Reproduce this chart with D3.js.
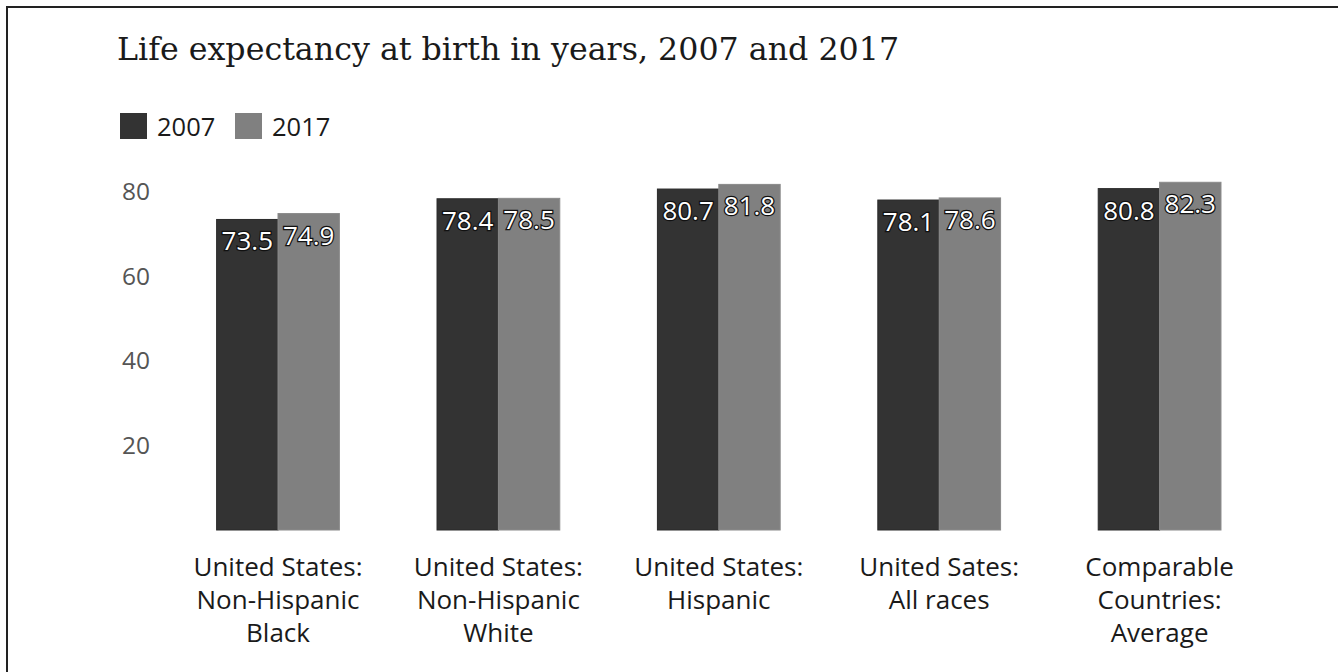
<!DOCTYPE html>
<html>
<head>
<meta charset="utf-8">
<script src="https://d3js.org/d3.v7.min.js"></script>
<style>
  body { margin:0; background:#fff; }
  svg { display:block; }
</style>
</head>
<body>
<script>
// data
var categories = [
  ["United States:", "Non-Hispanic", "Black"],
  ["United States:", "Non-Hispanic", "White"],
  ["United States:", "Hispanic"],
  ["United Sates:", "All races"],
  ["Comparable", "Countries:", "Average"]
];
var years = ["2007", "2017"];
var values2007 = [73.5, 78.4, 80.7, 78.1, 80.8];
var values2017 = [74.9, 78.5, 81.8, 78.6, 82.3];
var yTicks = [20, 40, 60, 80];

var width = 1338, height = 672;
var colors = {"2007": "#333333", "2017": "#808080"};
var sans = "'Open Sans', sans-serif";

var svg = d3.select("body").append("svg")
    .attr("width", width)
    .attr("height", height);

// frame lines (top and left only)
svg.append("line").attr("x1", 6).attr("x2", width).attr("y1", 7).attr("y2", 7)
    .attr("stroke", "#222").attr("stroke-width", 2);
svg.append("line").attr("x1", 7).attr("x2", 7).attr("y1", 6).attr("y2", height)
    .attr("stroke", "#222").attr("stroke-width", 2);

svg.append("text")
    .attr("x", 117).attr("y", 60)
    .style("font-family", "DejaVu Serif")
    .style("font-size", "31.7px")
    .attr("fill", "#1a1a1a")
    .text("Life expectancy at birth in years, 2007 and 2017");

// legend
var legend = svg.append("g").attr("transform", "translate(120,113)");
var lx = [0, 115];
years.forEach(function (yr, i) {
  var g = legend.append("g").attr("transform", "translate(" + lx[i] + ",0)");
  g.append("rect").attr("width", 27).attr("height", 26).attr("fill", colors[yr]);
  g.append("text").attr("x", 37).attr("y", 23)
      .style("font-family", sans).style("font-size", "25.5px")
      .attr("fill", "#1a1a1a").text(yr);
});

var x0 = d3.scaleBand()
    .domain(d3.range(categories.length))
    .range([167.8, 1269.8])
    .paddingInner(0.443)
    .paddingOuter(0.2215);

var x1 = d3.scaleBand()
    .domain(years)
    .range([0, x0.bandwidth()]);

var y = d3.scaleLinear()
    .domain([0, 80])
    .range([530, 192]);

// y axis labels
var yAxis = d3.axisLeft(y).tickValues(yTicks).tickSize(0).tickPadding(0);
var ya = svg.append("g").attr("transform", "translate(150,0)").call(yAxis);
ya.select(".domain").remove();
ya.selectAll("text")
    .style("font-family", sans).style("font-size", "24.5px")
    .attr("fill", "#555");

var rows = categories.map(function (c, i) {
  return {i: i, vals: [{k: "2007", v: values2007[i]}, {k: "2017", v: values2017[i]}]};
});

var groups = svg.selectAll(".grp").data(rows).enter().append("g")
    .attr("class", "grp")
    .attr("transform", function (d) { return "translate(" + x0(d.i) + ",0)"; });

groups.selectAll("rect").data(function (d) { return d.vals; }).enter().append("rect")
    .attr("x", function (d) { return x1(d.k); })
    .attr("width", x1.bandwidth())
    .attr("y", function (d) { return y(d.v); })
    .attr("height", function (d) { return y(0) - y(d.v); })
    .attr("fill", function (d) { return colors[d.k]; })
    .attr("stroke", function (d) { return d.k === "2007" ? "#2a2a2a" : "#8a8a8a"; })
    .attr("stroke-width", 1);

groups.selectAll(".val").data(function (d) { return d.vals; }).enter().append("text")
    .attr("class", "val")
    .attr("x", function (d) { return x1(d.k) + x1.bandwidth() / 2; })
    .attr("y", function (d) { return y(d.v) + 31; })
    .attr("text-anchor", "middle")
    .style("font-family", sans).style("font-size", "26px")
    .attr("fill", "#fff")
    .attr("stroke", "#111").attr("stroke-width", 2.5)
    .attr("paint-order", "stroke")
    .text(function (d) { return d.v.toFixed(1); });

// category labels
var xa = svg.append("g");
rows.forEach(function (d) {
  var cx = x0(d.i) + x0.bandwidth() / 2;
  var t = xa.append("text")
      .attr("text-anchor", "middle")
      .style("font-family", sans).style("font-size", "26px")
      .attr("fill", "#1a1a1a");
  categories[d.i].forEach(function (line, j) {
    t.append("tspan").attr("x", cx).attr("y", 576 + j * 33).text(line);
  });
});
</script>
</body>
</html>
